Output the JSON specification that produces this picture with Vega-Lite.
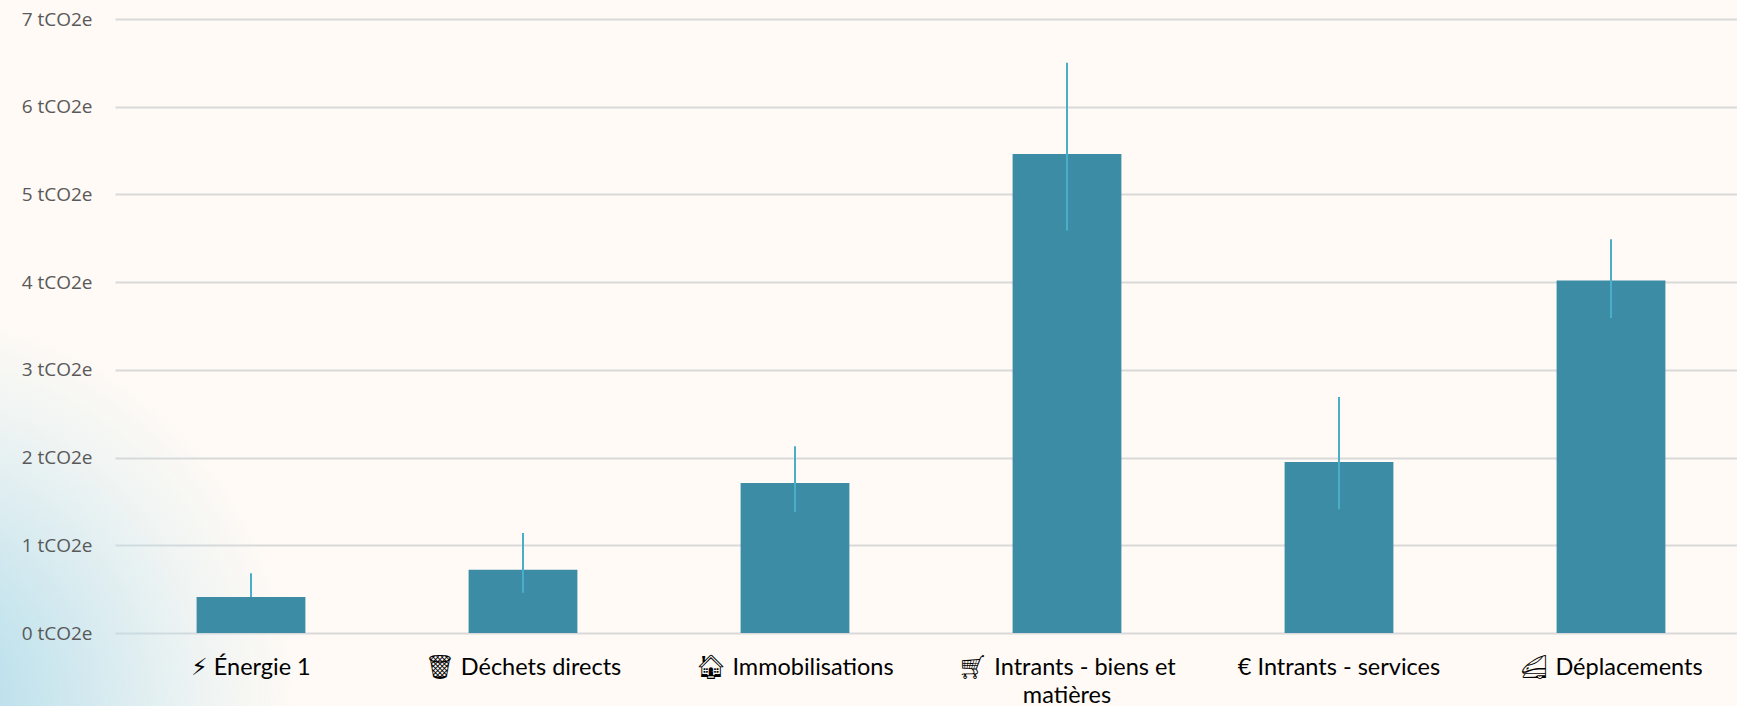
{"$schema":"https://vega.github.io/schema/vega-lite/v6.json","width":1632,"height":614,"autosize":{"type":"none"},"padding":{"left":115,"top":19,"right":0,"bottom":73},"background":"#fffaf5","view":{"stroke":null},"resolve":{"scale":{"x":"independent","y":"independent"}},"data":{"values":[{"category":"⚡︎ Énergie 1","value":0.41,"low":0.41,"high":0.68},{"category":"🗑︎ Déchets directs","value":0.72,"low":0.46,"high":1.14},{"category":"🏠︎ Immobilisations","value":1.71,"low":1.38,"high":2.13},{"category":"🛒︎ Intrants - biens et matières","value":5.46,"low":4.59,"high":6.5},{"category":"€ Intrants - services","value":1.95,"low":1.41,"high":2.69},{"category":"🚄︎ Déplacements","value":4.02,"low":3.59,"high":4.49}]},"layer":[{"data":{"values":[{"x0":0,"x1":1,"y0":0,"y1":1}]},"mark":{"type":"rect","clip":false,"color":{"gradient":"radial","x1":-0.25,"y1":1,"r1":0,"x2":-0.25,"y2":1,"r2":1,"stops":[{"offset":0.25,"color":"rgba(184,223,236,0.9)"},{"offset":0.5,"color":"rgba(184,223,236,0.58)"},{"offset":0.75,"color":"rgba(184,223,236,0.24)"},{"offset":1,"color":"rgba(184,223,236,0)"}]}},"encoding":{"x":{"field":"x0","type":"quantitative","scale":{"domain":[0,1],"range":[-115,285]},"axis":null},"x2":{"field":"x1"},"y":{"field":"y0","type":"quantitative","scale":{"domain":[0,1],"range":[687,287]},"axis":null},"y2":{"field":"y1"}}},{"mark":{"type":"bar","color":"#3d8ca6"},"encoding":{"x":{"field":"category","type":"nominal","sort":null,"scale":{"paddingInner":0.6,"paddingOuter":0.3},"axis":{"title":null,"zindex":1,"labelAngle":0,"labelColor":"#000000","labelFont":"Lato, DejaVu Sans","labelFontSize":23.5,"labelPadding":22,"labelLimit":400,"labelLineHeight":28,"tickSize":0,"domain":false,"labelAlign":"center","labelBaseline":"top","labelExpr":"indexof(datum.label, 'biens') > 0 ? [replace(datum.label, ' matières', ''), 'matières'] : datum.label","encode":{"labels":{"update":{"dy":{"signal":"indexof(datum.label, '€') == 0 ? -4 : 0"}}}}}},"y":{"field":"value","type":"quantitative","scale":{"domain":[0,7]},"axis":{"title":null,"zindex":0,"grid":true,"labels":false,"values":[0,1,2,3,4,5,6,7],"tickSize":0,"domain":false,"gridColor":"#d9d9d9","gridWidth":2}}}},{"mark":{"type":"rule","color":"#4aaecb","strokeWidth":2},"encoding":{"x":{"field":"category","type":"nominal","sort":null,"scale":{"paddingInner":0.6,"paddingOuter":0.3},"axis":null},"y":{"field":"low","type":"quantitative","scale":{"domain":[0,7]},"axis":{"title":null,"orient":"left","zindex":1,"grid":false,"values":[0,1,2,3,4,5,6,7],"labelExpr":"datum.value + ' tCO2e'","labelFont":"Open Sans","labelFontSize":19,"labelColor":"#595959","labelPadding":23,"tickSize":0,"domain":false,"labelLimit":200}},"y2":{"field":"high"}}}]}
